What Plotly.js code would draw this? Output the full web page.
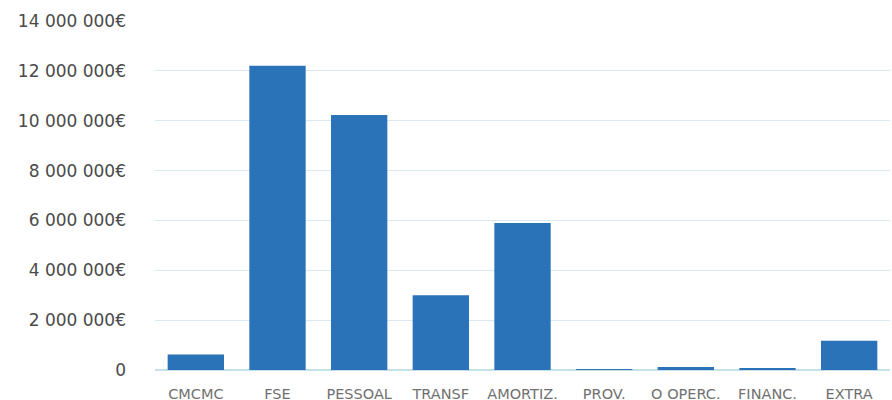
<!DOCTYPE html>
<html>
<head>
<meta charset="utf-8">
<script src="https://cdn.plot.ly/plotly-3.0.1.min.js"></script>
<style>html,body{margin:0;padding:0;background:#fff;}#chart{width:892px;height:400px;}</style>
</head>
<body>
<div id="chart"></div>
<script>
const categories = ["CMCMC", "FSE", "PESSOAL", "TRANSF", "AMORTIZ.", "PROV.", "O OPERC.", "FINANC.", "EXTRA"];
const values = [620000, 12200000, 10230000, 3000000, 5900000, 40000, 120000, 80000, 1170000];
const yTickVals = [0, 2000000, 4000000, 6000000, 8000000, 10000000, 12000000, 14000000];
const yTickText = ["0", "2 000 000€", "4 000 000€", "6 000 000€", "8 000 000€", "10 000 000€", "12 000 000€", "14 000 000€"];

Plotly.newPlot("chart", [{
  type: "bar",
  x: categories,
  y: values,
  marker: {color: "#2b73b8"},
  hoverinfo: "none"
}], {
  width: 892, height: 400,
  margin: {l: 155, r: 2, t: 21, b: 30},
  paper_bgcolor: "#fff", plot_bgcolor: "#fff",
  bargap: 0.31,
  showlegend: false,
  font: {family: "'DejaVu Sans', sans-serif", color: "#555"},
  xaxis: {
    tickfont: {size: 14.5, color: "#707070"},
    showgrid: false, showline: false, zeroline: false, ticks: "",
    ticklabelstandoff: 13
  },
  yaxis: {
    range: [0, 14000000],
    tickvals: yTickVals, ticktext: yTickText,
    tickfont: {size: 17, color: "#4a4a4a"},
    gridcolor: "#d8eaf0", gridwidth: 1,
    zeroline: true, zerolinecolor: "#c6e0ea", zerolinewidth: 1.5,
    showline: false, ticks: "",
    ticklabelstandoff: 28
  }
}, {displayModeBar: false, staticPlot: true});
</script>
</body>
</html>
